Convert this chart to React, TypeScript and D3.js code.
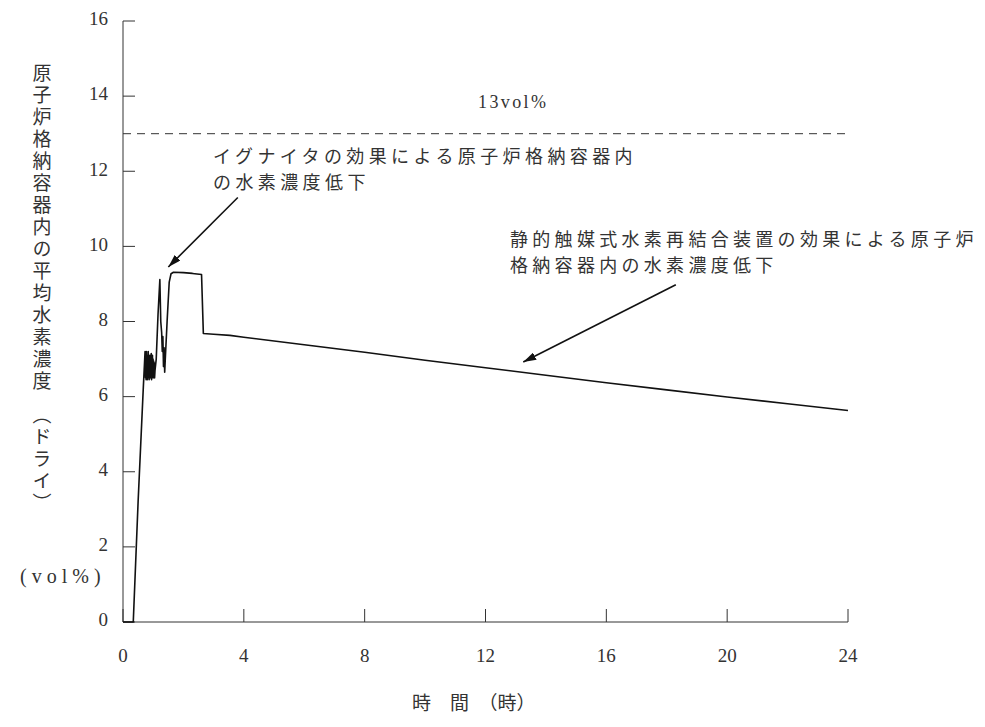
import React from "react";
import * as d3 from "d3";

// ---- data ----
const timeH: number[] = [
  0, 0.34, 0.5, 0.67, 0.73,
  0.745, 0.755, 0.765, 0.775, 0.785, 0.795, 0.805, 0.815, 0.825, 0.835, 0.845, 0.855, 0.865, 0.875, 0.885, 0.895, 0.905, 0.915, 0.925, 0.935, 0.945, 0.955, 0.965, 0.975, 0.985, 0.995, 1.005, 1.015, 1.025, 1.035, 1.045, 1.06,
  1.1, 1.16, 1.22, 1.25, 1.28, 1.3, 1.32, 1.34, 1.36, 1.38, 1.4, 1.46, 1.53, 1.59, 1.67,
  2.0, 2.3, 2.6, 2.66, 3.0, 3.54, 4, 6, 8, 10, 12, 14, 16, 18, 20, 22, 24,
];
const h2Conc: number[] = [
  0, 0, 3.2, 6.2, 7.2,
  6.5, 7.15, 6.45, 7.2, 6.55, 7.1, 6.45, 7.05, 6.5, 7.2, 6.55, 7.1, 6.45, 7.0, 6.55, 7.1, 6.5, 6.95, 6.6, 7.15, 6.45, 7.05, 6.5, 7.1, 6.55, 7.0, 6.5, 6.95, 6.6, 6.9, 6.5, 6.7,
  7.0, 8.2, 9.12, 8.0, 7.7, 7.2, 7.6, 6.8, 7.3, 6.65, 7.0, 8.0, 9.05, 9.27, 9.31,
  9.3, 9.28, 9.25, 7.68, 7.66, 7.63, 7.58, 7.38, 7.18, 6.97, 6.77, 6.57, 6.37, 6.18, 5.99, 5.81, 5.63,
];
const xTicks: number[] = [0, 4, 8, 12, 16, 20, 24];
const yTicks: number[] = [0, 2, 4, 6, 8, 10, 12, 14, 16];
const limitValue = 13;
const limitLabel = "13vol%";
const yLabel = "原子炉格納容器内の平均水素濃度\u3000（ドライ）";
const yUnit = "(vol%)";
const xLabel = "時\u3000間\u3000（時）";
const note1 = ["イグナイタの効果による原子炉格納容器内", "の水素濃度低下"];
const note2 = ["静的触媒式水素再結合装置の効果による原子炉", "格納容器内の水素濃度低下"];
// arrows: [fromT, fromV, toT, toV]
const arrow1: number[] = [3.8, 11.3, 1.5, 9.45];
const arrow2: number[] = [18.3, 8.98, 13.25, 6.92];

export default function App() {
  const x = d3.scaleLinear().domain([0, 24]).range([123, 848]);
  const y = d3.scaleLinear().domain([0, 16]).range([622, 21]);
  const pts: [number, number][] = timeH.map((t, i) => [t, h2Conc[i]]);
  const line = d3
    .line<[number, number]>()
    .x((d) => x(d[0]))
    .y((d) => y(d[1]));

  const txt = "#333";
  const serif = "'Liberation Serif', 'DejaVu Serif', serif";
  const cjk = "'Noto Sans CJK JP', sans-serif";

  return (
    <svg
      width={985}
      height={727}
      style={{ position: "absolute", left: 0, top: 0, background: "#fff" }}
    >
      <defs>
        <marker
          id="ah"
          viewBox="0 0 13 8"
          refX={13}
          refY={4}
          markerWidth={13}
          markerHeight={8}
          markerUnits="userSpaceOnUse"
          orient="auto"
        >
          <path d="M0,0 L13,4 L0,8 Z" fill="#111" />
        </marker>
      </defs>
      <rect x={0} y={0} width={985} height={727} fill="#fff" />

      {/* axes */}
      <line x1={x(0)} x2={x(0)} y1={y(16)} y2={y(0)} stroke="#333" strokeWidth={1} />
      <line x1={x(0)} x2={x(24)} y1={y(0)} y2={y(0)} stroke="#333" strokeWidth={1} />
      {yTicks.map((v) => (
        <g key={"y" + v}>
          <line x1={x(0)} x2={x(0) + 12} y1={y(v)} y2={y(v)} stroke="#333" />
          <text
            x={108}
            y={y(v)}
            textAnchor="end"
            dominantBaseline="middle"
            fontFamily={serif}
            fontSize={19}
            fill={txt}
          >
            {v}
          </text>
        </g>
      ))}
      {xTicks.map((v) => (
        <g key={"x" + v}>
          <line x1={x(v)} x2={x(v)} y1={y(0)} y2={y(0) - 13} stroke="#333" />
          <text
            x={x(v)}
            y={658}
            textAnchor="middle"
            dominantBaseline="middle"
            fontFamily={serif}
            fontSize={19}
            fill={txt}
          >
            {v}
          </text>
        </g>
      ))}

      {/* limit line */}
      <line
        x1={x(0)}
        x2={x(24)}
        y1={y(limitValue)}
        y2={y(limitValue)}
        stroke="#333"
        strokeDasharray="8,6"
      />
      <text
        x={478}
        y={104}
        dominantBaseline="middle"
        fontFamily={serif}
        fontSize={18}
        fill={txt}
        textLength={68}
        lengthAdjust="spacing"
      >
        {limitLabel}
      </text>

      {/* data line */}
      <path d={line(pts) || ""} fill="none" stroke="#111" strokeWidth={1.6} strokeLinejoin="round" />

      {/* annotations */}
      {note1.map((s, i) => (
        <text
          key={"n1" + i}
          x={213}
          y={158 + i * 26.5}
          dominantBaseline="middle"
          fontFamily={cjk}
          fontSize={18}
          fill={txt}
          letterSpacing={4.4}
        >
          {s}
        </text>
      ))}
      {note2.map((s, i) => (
        <text
          key={"n2" + i}
          x={510}
          y={241 + i * 26.5}
          dominantBaseline="middle"
          fontFamily={cjk}
          fontSize={18}
          fill={txt}
          letterSpacing={4.3}
        >
          {s}
        </text>
      ))}
      <line
        x1={x(arrow1[0])}
        y1={y(arrow1[1])}
        x2={x(arrow1[2])}
        y2={y(arrow1[3])}
        stroke="#111"
        strokeWidth={1.6}
        markerEnd="url(#ah)"
      />
      <line
        x1={x(arrow2[0])}
        y1={y(arrow2[1])}
        x2={x(arrow2[2])}
        y2={y(arrow2[3])}
        stroke="#111"
        strokeWidth={1.6}
        markerEnd="url(#ah)"
      />

      {/* axis titles */}
      <text
        x={42}
        y={63}
        fontFamily={cjk}
        fontSize={19}
        fill={txt}
        letterSpacing={3}
        style={{ writingMode: "vertical-rl" }}
      >
        {yLabel}
      </text>
      <text
        x={20}
        y={578}
        dominantBaseline="middle"
        fontFamily={serif}
        fontSize={20}
        fill={txt}
        letterSpacing={5}
      >
        {yUnit}
      </text>
      <text
        x={412}
        y={705}
        dominantBaseline="middle"
        fontFamily={cjk}
        fontSize={19}
        fill={txt}
      >
        {xLabel}
      </text>
    </svg>
  );
}
